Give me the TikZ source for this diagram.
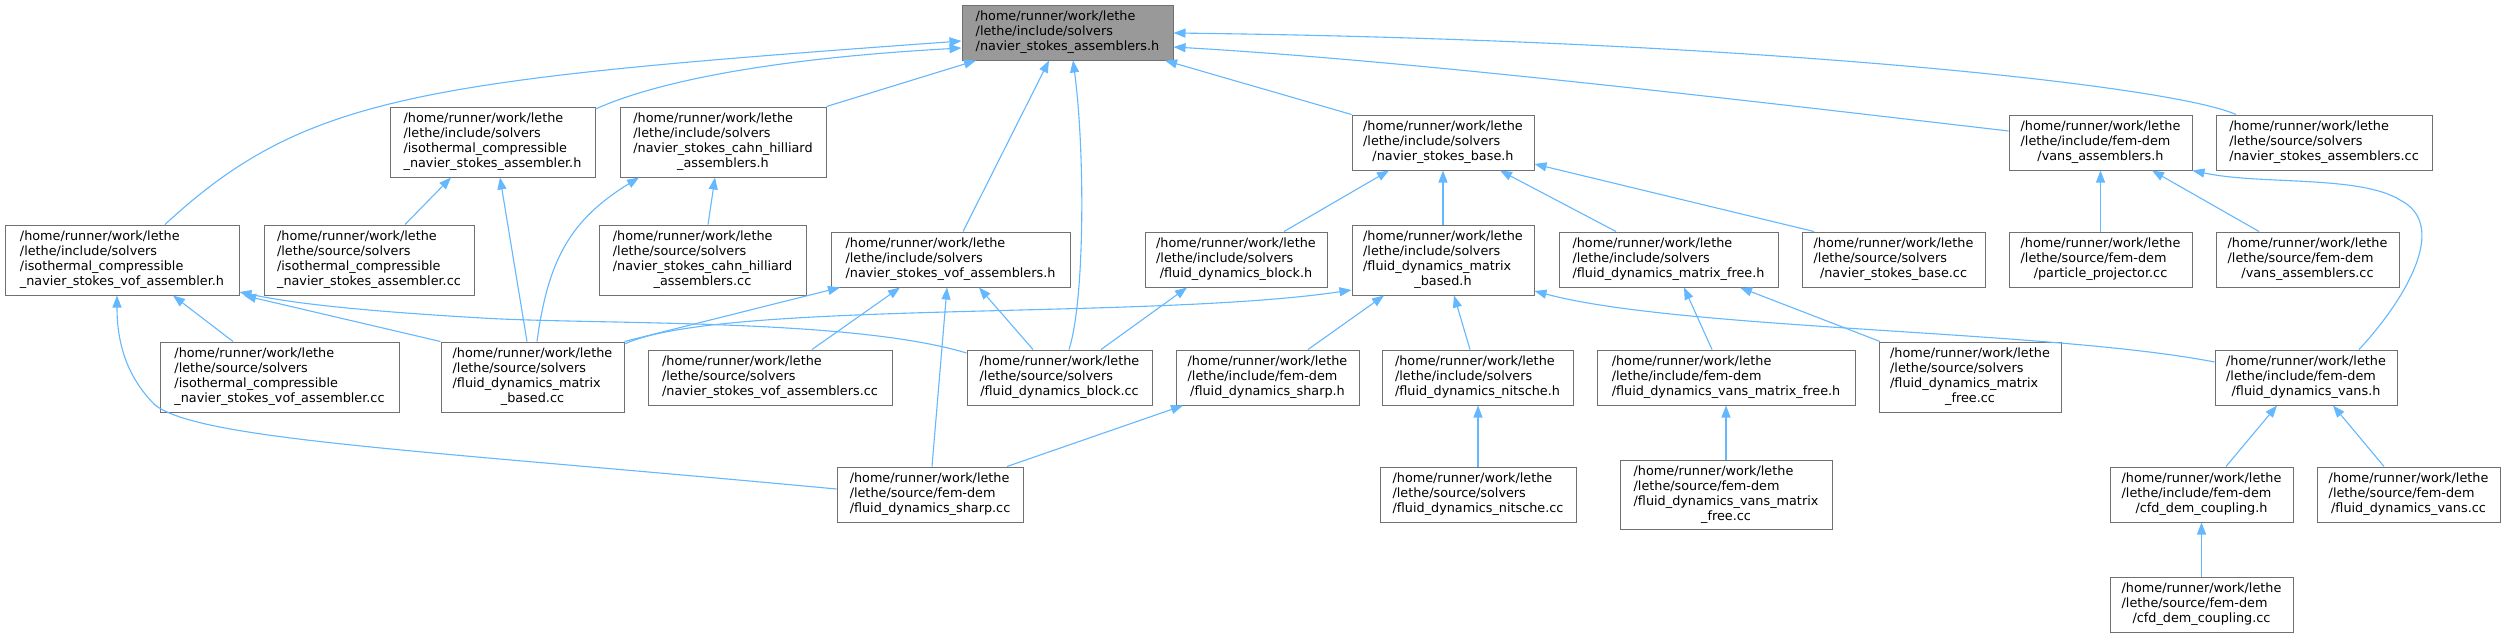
\documentclass[tikz,border=0pt]{standalone}
\usepackage{fontspec}
\setmainfont{DejaVu Sans}
\usetikzlibrary{arrows.meta}
\definecolor{edgeblue}{HTML}{63B8FF}
\definecolor{nodeborder}{HTML}{707070}
\definecolor{rootfill}{HTML}{999999}
\newcommand{\lbl}[2]{\begin{tabular}{@{}l@{}}#1\\\multicolumn{1}{@{}c@{}}{#2}\end{tabular}}
\newcommand{\fnode}[7][]{\node[box,#1,minimum width={#4-#2},minimum height={#5-#3}] (#6) at ({(#2+#4)/2},{(#3+#5)/2}) {#7};}
\tikzset{
  box/.style={draw=nodeborder,fill=white,line width=1pt,inner sep=0pt,font=\fontsize{12.8}{15}\selectfont},
  rootbox/.style={fill=rootfill},
  edge/.style={draw=edgeblue,line width=1.1pt,-{Triangle[length=12pt,width=9pt]}},
}
\begin{document}
\begin{tikzpicture}[x=1pt,y=-1pt]
\useasboundingbox[fill=white] (0,0) rectangle (2505,637);
% row 0
\fnode[rootbox]{962}{5}{1173}{60}{M}{\lbl{/home/runner/work/lethe\\/lethe/include/solvers}{/navier\_stokes\_assemblers.h}}
% row 1
\fnode{390}{107}{595}{177}{B1}{\lbl{/home/runner/work/lethe\\/lethe/include/solvers\\/isothermal\_compressible}{\_navier\_stokes\_assembler.h}}
\fnode{620}{107}{826}{177}{B2}{\lbl{/home/runner/work/lethe\\/lethe/include/solvers\\/navier\_stokes\_cahn\_hilliard}{\_assemblers.h}}
\fnode{1352}{115}{1534}{170}{BASE}{\lbl{/home/runner/work/lethe\\/lethe/include/solvers}{/navier\_stokes\_base.h}}
\fnode{2009}{115}{2192}{170}{VA}{\lbl{/home/runner/work/lethe\\/lethe/include/fem-dem}{/vans\_assemblers.h}}
\fnode{2216}{115}{2432}{170}{NSAcc}{\lbl{/home/runner/work/lethe\\/lethe/source/solvers}{/navier\_stokes\_assemblers.cc}}
% row 2
\fnode{5}{225}{239}{295}{A1}{\lbl{/home/runner/work/lethe\\/lethe/include/solvers\\/isothermal\_compressible}{\_navier\_stokes\_vof\_assembler.h}}
\fnode{264}{225}{474}{295}{B1c}{\lbl{/home/runner/work/lethe\\/lethe/source/solvers\\/isothermal\_compressible}{\_navier\_stokes\_assembler.cc}}
\fnode{599}{225}{806}{295}{B2c}{\lbl{/home/runner/work/lethe\\/lethe/source/solvers\\/navier\_stokes\_cahn\_hilliard}{\_assemblers.cc}}
\fnode{831}{232}{1070}{287}{C1}{\lbl{/home/runner/work/lethe\\/lethe/include/solvers}{/navier\_stokes\_vof\_assemblers.h}}
\fnode{1145}{232}{1327}{287}{BLKh}{\lbl{/home/runner/work/lethe\\/lethe/include/solvers}{/fluid\_dynamics\_block.h}}
\fnode{1352}{225}{1534}{295}{MBh}{\lbl{/home/runner/work/lethe\\/lethe/include/solvers\\/fluid\_dynamics\_matrix}{\_based.h}}
\fnode{1559}{232}{1778}{287}{MFh}{\lbl{/home/runner/work/lethe\\/lethe/include/solvers}{/fluid\_dynamics\_matrix\_free.h}}
\fnode{1802}{232}{1985}{287}{BASEcc}{\lbl{/home/runner/work/lethe\\/lethe/source/solvers}{/navier\_stokes\_base.cc}}
\fnode{2009}{232}{2192}{287}{PPcc}{\lbl{/home/runner/work/lethe\\/lethe/source/fem-dem}{/particle\_projector.cc}}
\fnode{2216}{232}{2399}{287}{VAcc}{\lbl{/home/runner/work/lethe\\/lethe/source/fem-dem}{/vans\_assemblers.cc}}
% row 3
\fnode{160}{342}{399}{412}{A1c}{\lbl{/home/runner/work/lethe\\/lethe/source/solvers\\/isothermal\_compressible}{\_navier\_stokes\_vof\_assembler.cc}}
\fnode{441}{342}{624}{412}{MBcc}{\lbl{/home/runner/work/lethe\\/lethe/source/solvers\\/fluid\_dynamics\_matrix}{\_based.cc}}
\fnode{648}{350}{892}{405}{C1c}{\lbl{/home/runner/work/lethe\\/lethe/source/solvers}{/navier\_stokes\_vof\_assemblers.cc}}
\fnode{967}{350}{1152}{405}{BLKcc}{\lbl{/home/runner/work/lethe\\/lethe/source/solvers}{/fluid\_dynamics\_block.cc}}
\fnode{1176}{350}{1359}{405}{SHh}{\lbl{/home/runner/work/lethe\\/lethe/include/fem-dem}{/fluid\_dynamics\_sharp.h}}
\fnode{1382}{350}{1573}{405}{NIh}{\lbl{/home/runner/work/lethe\\/lethe/include/solvers}{/fluid\_dynamics\_nitsche.h}}
\fnode{1597}{350}{1855}{405}{VMFh}{\lbl{/home/runner/work/lethe\\/lethe/include/fem-dem}{/fluid\_dynamics\_vans\_matrix\_free.h}}
\fnode{1879}{342}{2061}{412}{MFcc}{\lbl{/home/runner/work/lethe\\/lethe/source/solvers\\/fluid\_dynamics\_matrix}{\_free.cc}}
\fnode{2215}{350}{2397}{405}{VANSh}{\lbl{/home/runner/work/lethe\\/lethe/include/fem-dem}{/fluid\_dynamics\_vans.h}}
% row 4
\fnode{837}{467}{1023}{522}{SHcc}{\lbl{/home/runner/work/lethe\\/lethe/source/fem-dem}{/fluid\_dynamics\_sharp.cc}}
\fnode{1380}{467}{1576}{522}{NIcc}{\lbl{/home/runner/work/lethe\\/lethe/source/solvers}{/fluid\_dynamics\_nitsche.cc}}
\fnode{1620}{460}{1832}{529}{VMFcc}{\lbl{/home/runner/work/lethe\\/lethe/source/fem-dem\\/fluid\_dynamics\_vans\_matrix}{\_free.cc}}
\fnode{2110}{467}{2293}{522}{CFDh}{\lbl{/home/runner/work/lethe\\/lethe/include/fem-dem}{/cfd\_dem\_coupling.h}}
\fnode{2317}{467}{2500}{522}{VANScc}{\lbl{/home/runner/work/lethe\\/lethe/source/fem-dem}{/fluid\_dynamics\_vans.cc}}
% row 5
\fnode{2110}{577}{2293}{632}{CFDcc}{\lbl{/home/runner/work/lethe\\/lethe/source/fem-dem}{/cfd\_dem\_coupling.cc}}

% edges into M
\draw[edge] (A1.north -| 165,0) .. controls (305,95) and (420,80) .. (M.west |- 0,41);
\draw[edge] (B1.east |- 0,109) .. controls (660,80) and (780,58) .. (M.west |- 0,48);
\draw[edge] (B2.north east) -- (M.south -| 976,0);
\draw[edge] (C1.north -| 963,0) -- (M.south -| 1049,0);
\draw[edge] (BLKcc.north -| 1069,0) .. controls (1085,300) and (1085,150) .. (M.south -| 1073,0);
\draw[edge] (BASE.north west) -- (M.south -| 1165,0);
\draw[edge] (VA.west |- 0,131) .. controls (1700,95) and (1400,60) .. (M.east |- 0,47);
\draw[edge] (NSAcc.north -| 2236,0) .. controls (2170,85) and (1750,40) .. (M.east |- 0,33);
% B1, B2
\draw[edge] (B1c.north -| 405,0) -- (B1.south -| 451,0);
\draw[edge] (MBcc.north -| 527,0) -- (B1.south -| 500,0);
\draw[edge] (B2c.north -| 708,0) -- (B2.south -| 715,0);
\draw[edge] (MBcc.north -| 537,0) .. controls (548,260) and (570,220) .. (B2.south -| 639,0);
% A1
\draw[edge] (A1c.north -| 233,0) -- (A1.south -| 173,0);
\draw[edge] (SHcc.west |- 0,489) .. controls (420,450) and (200,440) .. (155,405) .. controls (125,375) and (117,340) .. (A1.south -| 117,0);
\draw[edge] (MBcc.north west) -- (A1.south -| 244,0);
\draw[edge] (BLKcc.west |- 0,353) .. controls (850,318) and (600,325) .. (482,318) .. controls (380,312) and (300,305) .. (A1.east |- 0,292);
% C1
\draw[edge] (MBcc.north east) -- (C1.south -| 840,0);
\draw[edge] (C1c.north -| 812,0) -- (C1.south -| 900,0);
\draw[edge] (SHcc.north -| 932,0) -- (C1.south -| 947,0);
\draw[edge] (BLKcc.north -| 1033,0) -- (C1.south -| 979,0);
% BLKh
\draw[edge] (BLKcc.north -| 1101,0) -- (BLKh.south -| 1187,0);
% BASE
\draw[edge] (BLKh.north -| 1284,0) -- (BASE.south -| 1389,0);
\draw[edge] (MBh.north) -- (BASE.south);
\draw[edge] (MFh.north -| 1616,0) -- (BASE.south -| 1500,0);
\draw[edge] (BASEcc.north -| 1814,0) -- (BASE.east |- 0,164);
% MBh
\draw[edge] (MBcc.east |- 0,344) .. controls (720,300) and (1150,320) .. (MBh.west |- 0,290);
\draw[edge] (SHh.north -| 1308,0) -- (MBh.south -| 1384,0);
\draw[edge] (NIh.north -| 1470,0) -- (MBh.south -| 1454,0);
\draw[edge] (VANSh.west |- 0,362) .. controls (2050,330) and (1680,330) .. (MBh.east |- 0,291);
% MFh
\draw[edge] (VMFh.north -| 1712,0) -- (MFh.south -| 1684,0);
\draw[edge] (MFcc.north -| 1880,0) -- (MFh.south -| 1740,0);
% VA
\draw[edge] (PPcc.north) -- (VA.south);
\draw[edge] (VAcc.north -| 2259,0) -- (VA.south -| 2152,0);
\draw[edge] (VANSh.north -| 2359,0) .. controls (2405,300) and (2450,225) .. (2400,200) .. controls (2360,175) and (2260,185) .. (VA.south east);
% lower
\draw[edge] (VMFcc.north) -- (VMFh.south -| 1726,0);
\draw[edge] (NIcc.north) -- (NIh.south -| 1478,0);
\draw[edge] (CFDh.north -| 2226,0) -- (VANSh.south -| 2277,0);
\draw[edge] (VANScc.north -| 2384,0) -- (VANSh.south -| 2333,0);
\draw[edge] (CFDcc.north) -- (CFDh.south);
\draw[edge] (SHcc.north -| 1007,0) -- (SHh.south -| 1183,0);
\end{tikzpicture}
\end{document}
